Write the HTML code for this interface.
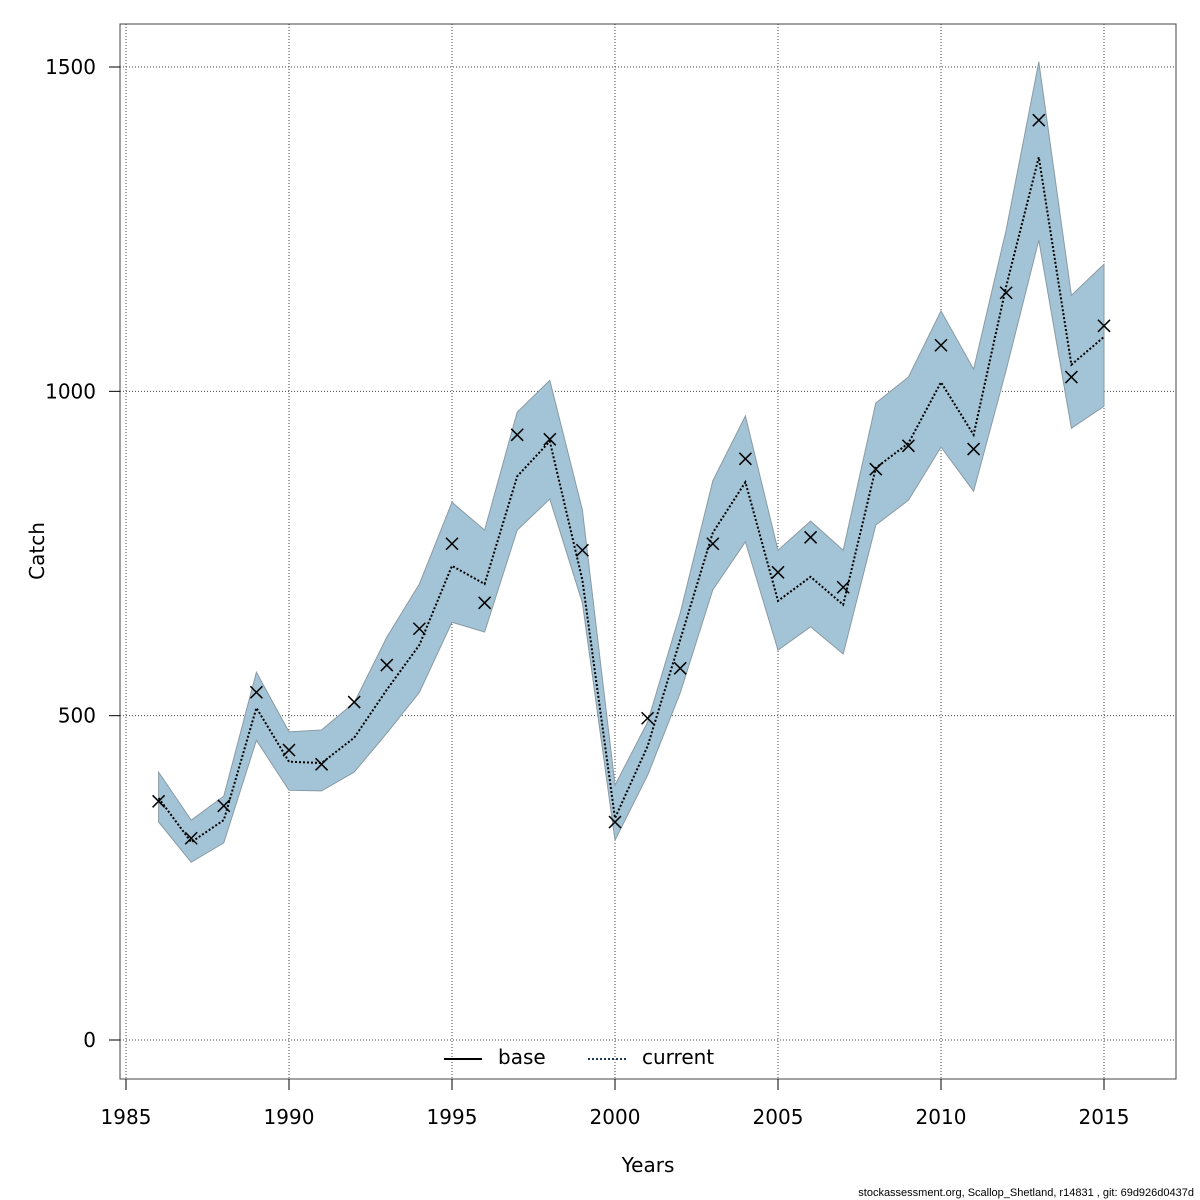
<!DOCTYPE html>
<html><head><meta charset="utf-8"><style>
html,body{margin:0;padding:0;background:#fff;}
svg{display:block;font-family:"DejaVu Sans","Liberation Sans",sans-serif;}
</style></head><body>
<svg id="chart" width="1200" height="1200" viewBox="0 0 1200 1200"></svg>
<script>
const years=[1986,1987,1988,1989,1990,1991,1992,1993,1994,1995,1996,1997,1998,1999,2000,2001,2002,2003,2004,2005,2006,2007,2008,2009,2010,2011,2012,2013,2014,2015];
const observed=[368,311,361,536,447,425,521,578,634,765,674,933,926,755,336,496,573,765,896,721,775,698,880,916,1071,911,1152,1418,1022,1101];
const estimate=[373,305,339,512,429,427,466,540,609,731,703,869,923,709,342,453,617,782,860,677,714,671,882,920,1014,933,1162,1361,1041,1084];
const upper=[413,339,376,567,475,478,520,621,703,829,786,968,1017,817,393,490,658,862,962,755,800,755,982,1022,1124,1034,1249,1508,1148,1196];
const lower=[336,274,304,462,385,384,413,473,536,644,629,786,834,674,308,408,535,694,768,601,637,595,794,832,914,846,1033,1233,943,977];
const xTicks=[1985,1990,1995,2000,2005,2010,2015];
const yTicks=[0,500,1000,1500];

const svg=document.getElementById('chart');
const NS='http://www.w3.org/2000/svg';
const X=v=>126+(v-1985)*(1104-126)/30;
const Y=v=>1040-v*(1040-67)/1500;
function mk(tag,attrs,parent){const e=document.createElementNS(NS,tag);for(const k in attrs)e.setAttribute(k,attrs[k]);(parent||svg).appendChild(e);return e;}

for(const t of xTicks){const l=mk('line',{x1:X(t),x2:X(t),y1:24,y2:1079,stroke:'#444','stroke-width':1,'stroke-dasharray':'1,2'});

}
for(const t of yTicks){const l=mk('line',{x1:120,x2:1176,y1:Y(t),y2:Y(t),stroke:'#444','stroke-width':1,'stroke-dasharray':'1,2'});

}

let pts=years.map((y,i)=>X(y)+','+Y(upper[i]));
pts=pts.concat(years.map((y,i)=>X(y)+','+Y(lower[i])).reverse());
const band=mk('polygon',{points:pts.join(' '),fill:'#a3c4d6',stroke:'#8a9aa4','stroke-width':1});



const est=mk('polyline',{points:years.map((y,i)=>X(y)+','+Y(estimate[i])).join(' '),fill:'none',stroke:'#000','stroke-width':2,'stroke-dasharray':'2,2'});



years.forEach((y,i)=>{const cx=X(y),cy=Y(observed[i]),s=6;
const g=mk('g',{stroke:'#000','stroke-width':1.5});


mk('line',{x1:cx-s,y1:cy-s,x2:cx+s,y2:cy+s},g);mk('line',{x1:cx-s,y1:cy+s,x2:cx+s,y2:cy-s},g);});

const fr=mk('rect',{x:120,y:24,width:1056,height:1055,fill:'none',stroke:'#444','stroke-width':1});



for(const t of xTicks){mk('line',{x1:X(t),x2:X(t),y1:1079,y2:1090,stroke:'#000'});
const tx=mk('text',{x:X(t),y:1124,'text-anchor':'middle','font-size':20});tx.textContent=t;

}
for(const t of yTicks){mk('line',{x1:109,x2:120,y1:Y(t),y2:Y(t),stroke:'#000'});
const tx=mk('text',{x:96,y:Y(t)+7,'text-anchor':'end','font-size':20});tx.textContent=t;

}
</script>
<div style="position:absolute;left:0;top:0;width:1200px;height:1200px;pointer-events:none;font-family:'DejaVu Sans','Liberation Sans',sans-serif;">
<div style="position:absolute;left:648px;top:1153px;width:120px;margin-left:-60px;text-align:center;font-size:20px;">Years</div>
<div style="position:absolute;left:37px;top:551px;font-size:20px;transform:translate(-50%,-50%) rotate(-90deg);">Catch</div>
<div style="position:absolute;left:444px;top:1045px;font-size:20px;height:24px;">
<span style="position:absolute;left:0;top:0;white-space:nowrap;"><span style="display:inline-block;width:38px;border-top:2px solid #000;vertical-align:middle;margin-right:16px;"></span>base</span>
<span style="position:absolute;left:144px;top:0;white-space:nowrap;"><span style="display:inline-block;width:38px;border-top:2px dotted #1a3a5a;vertical-align:middle;margin-right:16px;"></span>current</span>
</div>
<div style="position:absolute;right:6px;top:1187px;font-size:11px;font-family:'Liberation Sans',sans-serif;">stockassessment.org, Scallop_Shetland, r14831 , git: 69d926d0437d</div>
</div>
</body></html>
